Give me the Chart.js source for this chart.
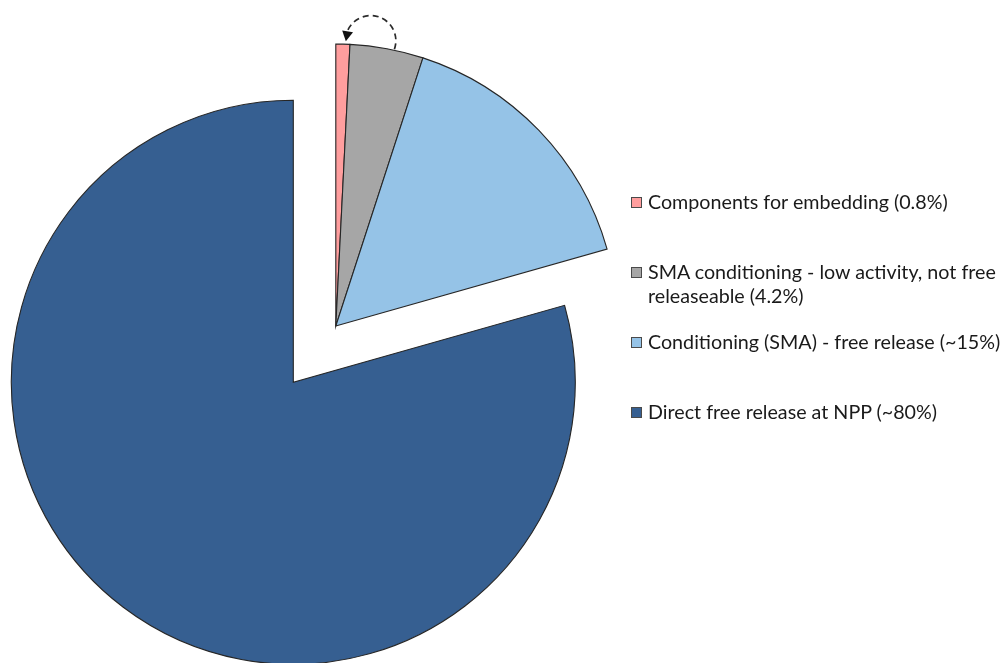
<!DOCTYPE html>
<html>
<head>
<meta charset="utf-8">
<script src="https://cdn.jsdelivr.net/npm/chart.js@4.4.1/dist/chart.umd.min.js"></script>
<style>
  html, body { margin: 0; padding: 0; background: #ffffff; }
  #wrap { position: relative; width: 1003px; height: 663px; overflow: hidden; }
  #c { position: absolute; left: 0; top: 0; }
  .leg { position: absolute; left: 631px; font-family: Lato, "Open Sans", sans-serif; font-size: 19.7px; line-height: 24px; color: #1a1a1a; white-space: nowrap; }
  .leg .box { position: absolute; left: 0; top: 7px; width: 9px; height: 9px; border: 1px solid #4a4a4a; }
  .leg .txt { position: absolute; left: 17px; top: 0; }
</style>
</head>
<body>
<div id="wrap">
  <canvas id="c" width="1003" height="663"></canvas>
  <div id="legend"></div>
</div>
<script>
// ---- data ----
const categories = [
  'Components for embedding (0.8%)',
  'SMA conditioning - low activity, not free\nreleaseable (4.2%)',
  'Conditioning (SMA) - free release (~15%)',
  'Direct free release at NPP (~80%)'
];
const values = [0.8, 4.2, 15.6, 79.4];
const sliceColors = ['#FF9E9E', '#A6A6A6', '#95C3E7', '#365F91'];
const explodedGroup = [0, 1, 2];

// ---- plugins ----
const explodePlugin = {
  id: 'explodeGroup',
  beforeDatasetDraw(chart, args, opts) {
    const ctx = chart.ctx;
    const els = args.meta.data;
    const group = opts.group;
    const start = Math.min(...group.map(i => els[i].startAngle));
    const end = Math.max(...group.map(i => els[i].endAngle));
    const mid = (start + end) / 2;
    const dx = Math.cos(mid) * opts.distance;
    const dy = Math.sin(mid) * opts.distance;
    chart.$explode = { dx, dy };
    els.forEach((el, i) => {
      ctx.save();
      if (group.includes(i)) ctx.translate(dx, dy);
      el.draw(ctx, chart.chartArea);
      ctx.restore();
    });
    return false;
  }
};

const arrowPlugin = {
  id: 'loopArrow',
  afterDatasetsDraw(chart, args, opts) {
    const els = chart.getDatasetMeta(0).data;
    const off = chart.$explode || { dx: 0, dy: 0 };
    const from = els[opts.from], to = els[opts.to];
    const cx = from.x + off.dx, cy = from.y + off.dy;
    const aS = from.startAngle + (from.endAngle - from.startAngle) * opts.fromFrac;
    const aE = to.startAngle + (to.endAngle - to.startAngle) * opts.toFrac;
    const rS = from.outerRadius + 1, rE = to.outerRadius + opts.tipLift;
    const S = { x: cx + Math.cos(aS) * rS, y: cy + Math.sin(aS) * rS };
    const E = { x: cx + Math.cos(aE) * rE, y: cy + Math.sin(aE) * rE };
    const M = { x: (S.x + E.x) / 2, y: (S.y + E.y) / 2 };
    const nl = Math.hypot(M.x - cx, M.y - cy);
    const n = { x: (M.x - cx) / nl, y: (M.y - cy) / nl };
    const C = { x: M.x + n.x * opts.bulge, y: M.y + n.y * opts.bulge };
    const R = Math.hypot(S.x - C.x, S.y - C.y);
    const angS = Math.atan2(S.y - C.y, S.x - C.x);
    const angE = Math.atan2(E.y - C.y, E.x - C.x);
    const ctx = chart.ctx;
    ctx.save();
    ctx.strokeStyle = '#2b2b2b';
    ctx.lineWidth = 1.7;
    ctx.setLineDash([6, 4]);
    ctx.beginPath();
    ctx.arc(C.x, C.y, R, angS, angE + opts.head * 0.8 / R, true);
    ctx.stroke();
    ctx.setLineDash([]);
    const a = angE + opts.head / (2 * R);
    const dir = { x: Math.sin(a), y: -Math.cos(a) };
    const perp = { x: -dir.y, y: dir.x };
    const bx = E.x - dir.x * opts.head, by = E.y - dir.y * opts.head;
    ctx.fillStyle = '#111111';
    ctx.beginPath();
    ctx.moveTo(E.x, E.y);
    ctx.lineTo(bx + perp.x * opts.head * 0.55, by + perp.y * opts.head * 0.55);
    ctx.lineTo(bx - perp.x * opts.head * 0.55, by - perp.y * opts.head * 0.55);
    ctx.closePath();
    ctx.fill();
    ctx.restore();
  }
};

// ---- chart ----
const chart = new Chart(document.getElementById('c'), {
  type: 'pie',
  data: {
    labels: categories,
    datasets: [{
      data: values,
      backgroundColor: sliceColors,
      borderColor: '#262626',
      borderWidth: 1.1,
      borderJoinStyle: 'miter',
      radius: 282,
      clip: false
    }]
  },
  options: {
    responsive: false,
    devicePixelRatio: 1,
    animation: false,
    layout: { padding: { top: 101.6, bottom: 0, left: 0, right: 416.4 } },
    plugins: {
      legend: { display: false },
      tooltip: { enabled: false },
      explodeGroup: { group: explodedGroup, distance: 70.5 },
      loopArrow: { from: 1, to: 0, fromFrac: 0.6, toFrac: 0.7, tipLift: 3, bulge: 4.5, head: 10 }
    }
  },
  plugins: [explodePlugin, arrowPlugin]
});

// ---- HTML legend built from the chart data ----
const legendTops = [190, 260, 330, 400];
const legendEl = document.getElementById('legend');
categories.forEach((label, i) => {
  const item = document.createElement('div');
  item.className = 'leg';
  item.style.top = legendTops[i] + 'px';
  const box = document.createElement('span');
  box.className = 'box';
  box.style.background = sliceColors[i];
  const txt = document.createElement('span');
  txt.className = 'txt';
  txt.innerHTML = label.split('\n').map(s => s.replace(/&/g, '&amp;').replace(/</g, '&lt;')).join('<br>');
  item.appendChild(box);
  item.appendChild(txt);
  legendEl.appendChild(item);
});
</script>
</body>
</html>
